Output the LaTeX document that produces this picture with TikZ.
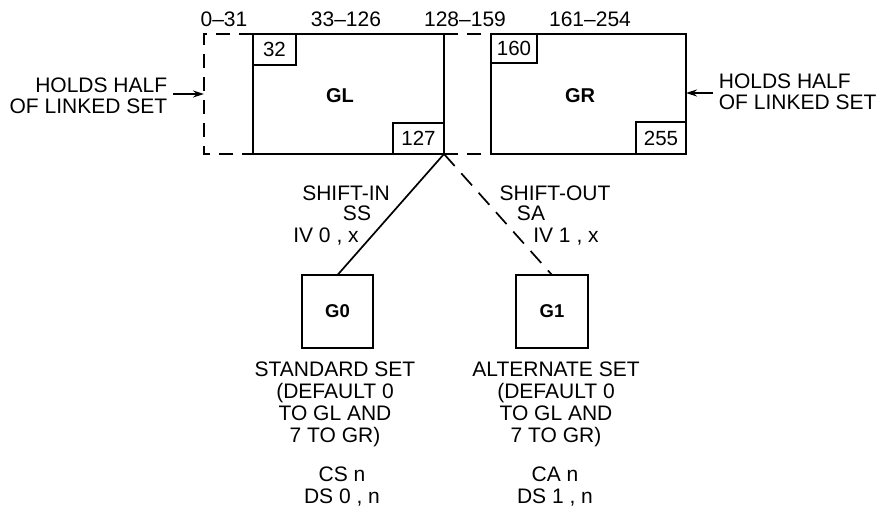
\documentclass[tikz,border=0pt]{standalone}
\usepackage{fontspec}
\setmainfont{Liberation Sans}
\usetikzlibrary{arrows.meta}
\begin{document}
\begin{tikzpicture}[x=1pt,y=-1pt,line width=1.7pt,
  box/.style={draw,inner sep=0pt,outer sep=0pt},
  cell/.style={draw,inner sep=0pt,outer sep=0pt,font=\fontsize{20.5}{22}\selectfont},
  lbl/.style={font=\fontsize{21}{22}\selectfont,inner sep=0pt,outer sep=0pt,anchor=base},
  blk/.style={font=\fontsize{21}{22}\selectfont,inner sep=0pt,outer sep=0pt,anchor=north,align=center},
  bold/.style={font=\fontsize{20}{22}\selectfont\bfseries,inner sep=0pt,anchor=base},
  dsh/.style={dash pattern=on 14pt off 9pt},
  arr/.style={-{Stealth[length=11pt,width=7pt]}},
]
\useasboundingbox (0,0) rectangle (878,508);

% main boxes
\node[box,minimum width=191pt,minimum height=120pt,anchor=north west] (GL) at (253,34) {};
\node[box,minimum width=195pt,minimum height=120pt,anchor=north west] (GR) at (491,34) {};

% small number cells
\node[cell,minimum width=43pt,minimum height=31pt,anchor=north west] (c32) at (GL.north west) {32};
\node[cell,minimum width=51pt,minimum height=31pt,anchor=south east] (c127) at (GL.south east) {127};
\node[cell,minimum width=46pt,minimum height=29pt,anchor=north west] (c160) at (GR.north west) {160};
\node[cell,minimum width=50pt,minimum height=32pt,anchor=south east] (c255) at (GR.south east) {255};

% box titles
\node[bold] (tGL) at (340,103) {GL};
\node[bold] (tGR) at (580,103) {GR};

% dashed areas
\coordinate (dtl) at (204,34);
\coordinate (dbl) at (204,154);
\draw[dsh] (GL.north west) -- (dtl) -- (dbl) -- (GL.south west);
\draw[dsh] (GL.north east) -- (GR.north west);
\draw[dsh] (GL.south east) -- (GR.south west);

% range labels
\node[lbl] (r0) at (224,27) {0--31};
\node[lbl] (r1) at (346,27) {33--126};
\node[lbl] (r2) at (465,27) {128--159};
\node[lbl] (r3) at (590,27) {161--254};

% side notes
\node[font=\fontsize{21}{21}\selectfont,inner sep=0pt,anchor=north east,align=right] (holdL) at (168,77) {HOLDS HALF\\OF LINKED SET};
\node[font=\fontsize{21}{21}\selectfont,inner sep=0pt,anchor=north west,align=left] (holdR) at (718,73) {HOLDS HALF\\OF LINKED SET};
\coordinate (ltip) at (204,94);
\coordinate (lstart) at (173,94);
\coordinate (rstart) at (713,93);
\coordinate (rtip) at (686,93);
\draw[arr,line width=1.4pt] (lstart) -- (ltip);
\draw[arr,line width=1.4pt] (rstart) -- (rtip);

% G0 / G1 boxes
\node[box,minimum width=71pt,minimum height=73pt,anchor=north west,font=\fontsize{18.5}{20}\selectfont\bfseries] (G0) at (302,275) {G0};
\node[box,minimum width=72pt,minimum height=73pt,anchor=north west,font=\fontsize{18.5}{20}\selectfont\bfseries] (G1) at (516,275) {G1};

\draw (GL.south east) -- (G0.north);
\draw[dash pattern=on 16pt off 10pt] (GL.south east) -- (G1.north);

% shift labels
\node[lbl] (si1) at (346,200) {SHIFT-IN};
\node[lbl] (si2) at (357,220) {SS};
\node[lbl] (si3) at (326,242) {IV 0 , x};
\node[lbl] (so1) at (555,200) {SHIFT-OUT};
\node[lbl] (so2) at (531,220) {SA};
\node[lbl] (so3) at (566,242) {IV 1 , x};

% descriptions
\node[blk] (d0) at (335,362) {STANDARD SET\\(DEFAULT 0\\TO GL AND\\7 TO GR)};
\node[blk] (d1) at (556,362) {ALTERNATE SET\\(DEFAULT 0\\TO GL AND\\7 TO GR)};
\node[blk] (e0) at (342,467) {CS n\\DS 0 , n};
\node[blk] (e1) at (555,467) {CA n\\DS 1 , n};
\end{tikzpicture}
\end{document}
